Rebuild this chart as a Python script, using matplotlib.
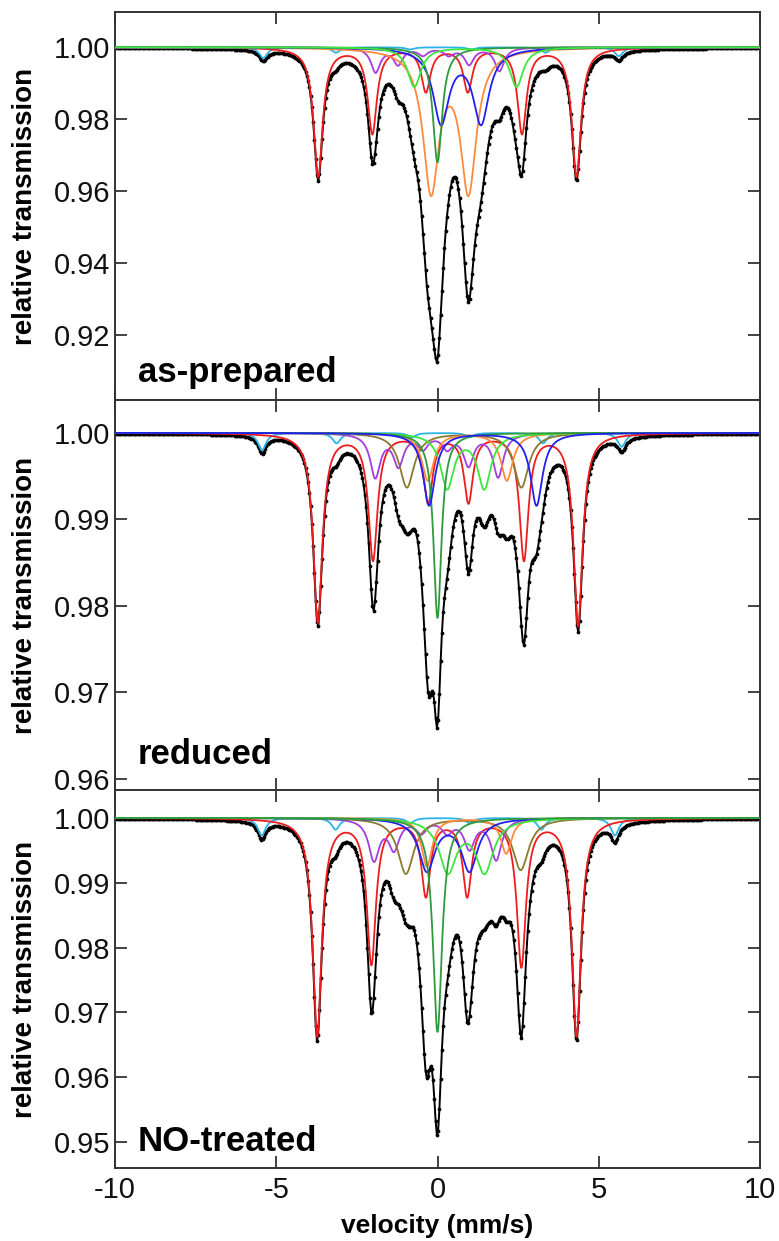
import numpy as np
import matplotlib
matplotlib.use("Agg")
import matplotlib.pyplot as plt

plt.rcParams['font.family'] = ['Liberation Sans', 'DejaVu Sans']
plt.rcParams['axes.unicode_minus'] = False

# ---------------- data ----------------
velocity_min, velocity_max = -10.0, 10.0
n_channels = 512
x_ticks = [-10, -5, 0, 5, 10]
x_label = "velocity (mm/s)"
y_label = "relative transmission"
panel_names = ["as-prepared", "reduced", "NO-treated"]
panel_ylims = [(0.9019, 1.0098), (0.9587, 1.0038), (0.9460, 1.0043)]
panel_yticks = [[0.92, 0.94, 0.96, 0.98, 1.00],
                [0.96, 0.97, 0.98, 0.99, 1.00],
                [0.95, 0.96, 0.97, 0.98, 0.99, 1.00]]

# component line positions (mm/s) and depths
# --- as-prepared
ap_red_pos = [-3.70, -2.02, -0.36, 0.94, 2.62, 4.31]
ap_red_depth = [0.0358, 0.0237, 0.0120, 0.0120, 0.0237, 0.0358]
ap_cyan_pos = [-5.40, -3.15, -0.85, 1.05, 3.35, 5.62]
ap_cyan_depth = [0.0030, 0.0015, 0.0006, 0.0006, 0.0015, 0.0025]
ap_purple_pos = [-1.92, -1.22, -0.45, 0.35, 0.98, 1.92]
ap_purple_depth = [0.0068, 0.0046, 0.0020, 0.0020, 0.0046, 0.0065]
ap_lgreen_pos = [-0.72, 2.45]
ap_lgreen_depth = [0.0110, 0.0110]
ap_dgreen_pos = [0.0]
ap_dgreen_depth = [0.0320]
ap_orange_pos = [-0.20, 0.96]
ap_orange_depth = [0.0390, 0.0390]
ap_blue_pos = [0.11, 1.35]
ap_blue_depth = [0.0206, 0.0206]

# --- reduced
rd_red_pos = [-3.71, -2.00, -0.29, 0.96, 2.68, 4.36]
rd_red_depth = [0.0218, 0.0145, 0.0078, 0.0078, 0.0145, 0.0222]
rd_cyan_pos = [-5.44, -3.13, -0.80, 1.00, 3.27, 5.71]
rd_cyan_depth = [0.0020, 0.0012, 0.0005, 0.0005, 0.0012, 0.0016]
rd_purple_pos = [-1.93, -1.21, -0.45, 0.30, 0.96, 1.88]
rd_purple_depth = [0.0050, 0.0036, 0.0016, 0.0016, 0.0036, 0.0050]
rd_brown_pos = [-0.95, 2.60]
rd_brown_depth = [0.0063, 0.0063]
rd_lgreen_pos = [0.30, 1.45]
rd_lgreen_depth = [0.0063, 0.0063]
rd_dgreen_pos = [0.0]
rd_dgreen_depth = [0.0214]
rd_blue_pos = [-0.26, 3.07]
rd_blue_depth = [0.0084, 0.0084]
rd_orange_pos = [-0.30, 2.15]
rd_orange_depth = [0.0055, 0.0055]

# --- NO-treated
no_red_pos = [-3.73, -2.05, -0.36, 0.92, 2.60, 4.31]
no_red_depth = [0.0335, 0.0222, 0.0117, 0.0117, 0.0226, 0.0335]
no_cyan_pos = [-5.45, -3.16, -0.85, 1.00, 3.22, 5.50]
no_cyan_depth = [0.0027, 0.0018, 0.0008, 0.0008, 0.0018, 0.0027]
no_purple_pos = [-1.97, -1.35, -0.50, 0.30, 0.99, 1.82]
no_purple_depth = [0.0063, 0.0045, 0.0020, 0.0020, 0.0045, 0.0063]
no_brown_pos = [-0.98, 2.58]
no_brown_depth = [0.0086, 0.0080]
no_blue_pos = [-0.33, 0.99]
no_blue_depth = [0.0080, 0.0080]
no_lgreen_pos = [0.32, 1.46]
no_lgreen_depth = [0.0081, 0.0081]
no_orange_pos = [-0.33, 2.13]
no_orange_depth = [0.0075, 0.0055]
no_dgreen_pos = [0.0]
no_dgreen_depth = [0.0330]

# ---------------- styles ----------------
colors = {
    "red": "#ee1c1c",
    "cyan": "#2ab4ea",
    "purple": "#a43ce0",
    "lgreen": "#3ce63c",
    "dgreen": "#2e9a3e",
    "orange": "#ff8a3c",
    "blue": "#2020f0",
    "brown": "#8a7a30",
}

# (colour, positions, depths, Lorentzian FWHM in mm/s)
panels = [
    [("cyan", ap_cyan_pos, ap_cyan_depth, 0.30),
     ("red", ap_red_pos, ap_red_depth, 0.34),
     ("purple", ap_purple_pos, ap_purple_depth, 0.35),
     ("orange", ap_orange_pos, ap_orange_depth, 0.60),
     ("blue", ap_blue_pos, ap_blue_depth, 0.60),
     ("dgreen", ap_dgreen_pos, ap_dgreen_depth, 0.35),
     ("lgreen", ap_lgreen_pos, ap_lgreen_depth, 0.50)],
    [("cyan", rd_cyan_pos, rd_cyan_depth, 0.30),
     ("red", rd_red_pos, rd_red_depth, 0.34),
     ("purple", rd_purple_pos, rd_purple_depth, 0.38),
     ("brown", rd_brown_pos, rd_brown_depth, 0.55),
     ("orange", rd_orange_pos, rd_orange_depth, 0.45),
     ("lgreen", rd_lgreen_pos, rd_lgreen_depth, 0.50),
     ("dgreen", rd_dgreen_pos, rd_dgreen_depth, 0.30),
     ("blue", rd_blue_pos, rd_blue_depth, 0.45)],
    [("cyan", no_cyan_pos, no_cyan_depth, 0.30),
     ("red", no_red_pos, no_red_depth, 0.34),
     ("purple", no_purple_pos, no_purple_depth, 0.40),
     ("brown", no_brown_pos, no_brown_depth, 0.60),
     ("orange", no_orange_pos, no_orange_depth, 0.40),
     ("blue", no_blue_pos, no_blue_depth, 0.60),
     ("lgreen", no_lgreen_pos, no_lgreen_depth, 0.65),
     ("dgreen", no_dgreen_pos, no_dgreen_depth, 0.34)],
]


def lorentz_sum(v, pos, depth, fwhm):
    hw = fwhm / 2.0
    out = np.zeros_like(v)
    for p, d in zip(pos, depth):
        out += d / (1.0 + ((v - p) / hw) ** 2)
    return out


W, H = 779, 1241
fig = plt.figure(figsize=(W / 100, H / 100), dpi=100)
left = 115 / W
width = (760 - 115) / W
edges_px = [(12, 400), (400, 790), (790, 1168)]

v_fine = np.linspace(velocity_min, velocity_max, 3000)
v_chan = np.linspace(velocity_min, velocity_max, n_channels)

label_pos = [0.072, 0.09, 0.069]

for i, comps in enumerate(panels):
    top, bot = edges_px[i]
    ax = fig.add_axes([left, 1 - bot / H, width, (bot - top) / H])
    total = np.zeros_like(v_chan)
    for name, pos, dep, fw in comps:
        total += lorentz_sum(v_chan, pos, dep, fw)
    ax.plot(v_chan, 1 - total, color="black", lw=1.4, marker="o",
            markersize=2.7, markeredgewidth=0, zorder=2)
    for name, pos, dep, fw in comps:
        ax.plot(v_fine, 1 - lorentz_sum(v_fine, pos, dep, fw),
                color=colors[name], lw=1.3, zorder=3)
    ax.set_xlim(velocity_min, velocity_max)
    ax.set_ylim(*panel_ylims[i])
    ax.set_xticks(x_ticks)
    ax.set_yticks(panel_yticks[i])
    ax.set_yticklabels([f"{t:.2f}" for t in panel_yticks[i]])
    ax.tick_params(direction="in", length=8.5, width=1.2, top=True,
                   right=True, labelsize=21, pad=3.5, colors="#222222",
                   labelcolor="#111111")
    ax.tick_params(axis="x", pad=6)
    if i < 2:
        ax.tick_params(labelbottom=False)
    for s in ax.spines.values():
        s.set_linewidth(1.4)
        s.set_color("#333333")
    ax.set_ylabel(y_label, fontsize=20, fontweight="bold")
    ax.yaxis.set_label_coords(-0.119, 0.5)
    ax.text(0.035, label_pos[i], panel_names[i], transform=ax.transAxes,
            fontsize=25, fontweight="bold", va="center", ha="left")
    if i == 2:
        ax.set_xlabel(x_label, fontsize=19, fontweight="bold", labelpad=7)

fig.savefig("out.png", dpi=100)
